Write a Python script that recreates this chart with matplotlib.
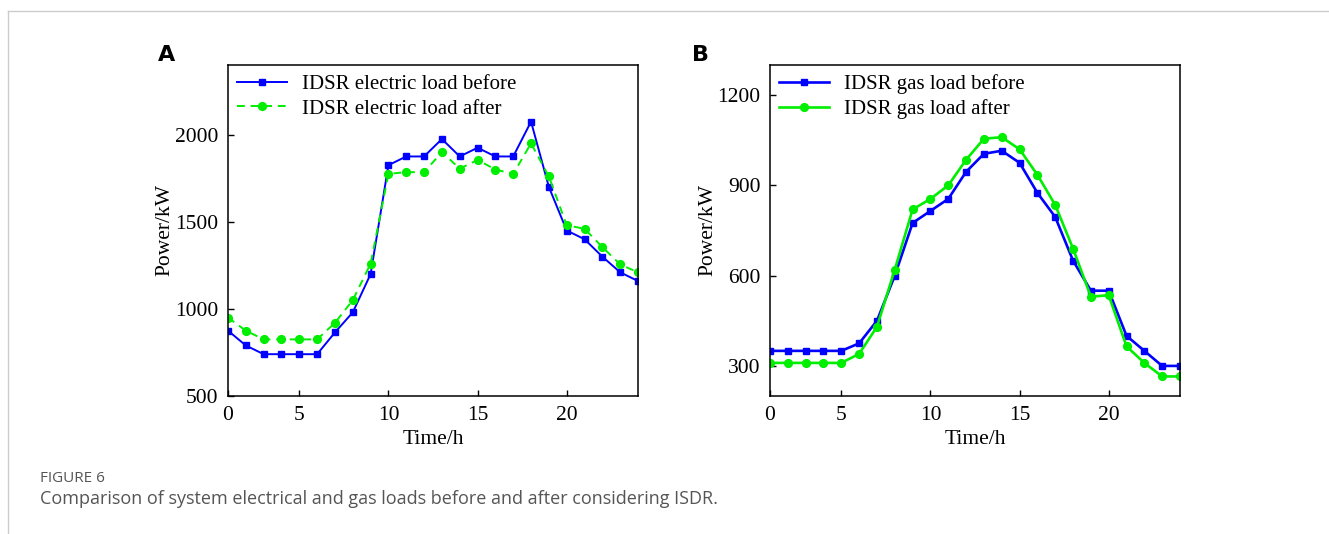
import matplotlib
matplotlib.use("Agg")
import matplotlib.pyplot as plt
from matplotlib.lines import Line2D

plt.rcParams['font.family'] = ['Liberation Serif', 'DejaVu Serif']

hours = list(range(1, 25))

# panel A: electric load (kW)
elec_before = [875, 790, 740, 740, 740, 740, 865, 980, 1200, 1825, 1875, 1875,
               1975, 1875, 1925, 1875, 1875, 2075, 1700, 1450, 1400, 1300, 1210, 1160]
elec_after = [950, 875, 825, 825, 825, 825, 920, 1050, 1260, 1775, 1785, 1785,
              1900, 1805, 1855, 1800, 1775, 1950, 1760, 1480, 1460, 1355, 1255, 1210]

# panel B: gas load (kW)
gas_before = [350, 350, 350, 350, 350, 375, 450, 600, 775, 815, 855, 945,
              1005, 1015, 975, 875, 795, 650, 550, 550, 400, 350, 300, 300]
gas_after = [310, 310, 310, 310, 310, 340, 430, 620, 820, 855, 900, 985,
             1055, 1060, 1020, 935, 835, 690, 530, 535, 365, 310, 265, 265]

xtick_pos = [1, 5, 10, 15, 20]
xtick_lab = ['0', '5', '10', '15', '20']

W, H = 1329, 534
fig = plt.figure(figsize=(W / 100, H / 100), dpi=100)

def px_axes(l, r, t, b):
    return fig.add_axes([l / W, 1 - b / H, (r - l) / W, (b - t) / H])

axA = px_axes(228, 638, 65, 396)
axB = px_axes(770, 1180, 65, 396)

blue = '#0000ff'
green = '#00ee00'

axA.plot(hours, elec_before, color=blue, lw=1.4, marker='s', ms=4.8,
         label='IDSR electric load before')
axA.plot(hours, elec_after, color=green, lw=1.4, ls=(0, (4, 3)), marker='o', ms=5.6,
         label='IDSR electric load after')
axA.set_ylim(500, 2400)
axA.set_yticks([500, 1000, 1500, 2000])

axB.plot(hours, gas_before, color=blue, lw=1.9, marker='s', ms=4.8,
         label='IDSR gas load before')
axB.plot(hours, gas_after, color=green, lw=1.9, marker='o', ms=5.6,
         label='IDSR gas load after')
axB.set_ylim(200, 1300)
axB.set_yticks([300, 600, 900, 1200])

for ax in (axA, axB):
    ax.set_xlim(1, 24)
    ax.set_xticks(xtick_pos)
    ax.set_xticklabels(xtick_lab)
    ax.tick_params(direction='in', length=4, width=1, labelsize=15.5, pad=7)
    ax.set_xlabel('Time/h', fontsize=15.5, labelpad=4)
    ax.set_ylabel('Power/kW', fontsize=15.5, labelpad=0)
    for s in ax.spines.values():
        s.set_linewidth(1.1)
    ax.legend(loc='upper left', frameon=False, fontsize=15, handlelength=2.4,
              borderaxespad=0.15, borderpad=0.3, labelspacing=0.25, handletextpad=0.7)

fig.text(167 / W, 1 - 55 / H, 'A', fontsize=16, fontweight='bold',
         family='DejaVu Sans', ha='center', va='center')
fig.text(700 / W, 1 - 55 / H, 'B', fontsize=16, fontweight='bold',
         family='DejaVu Sans', ha='center', va='center')

# page frame lines
fig.add_artist(Line2D([7.5 / W, 7.5 / W], [0, 1 - 10.5 / H], color='#cccccc', lw=1))
fig.add_artist(Line2D([7.5 / W, 1], [1 - 10.5 / H, 1 - 10.5 / H], color='#cccccc', lw=1))

fig.text(40 / W, 1 - 479 / H, 'FIGURE 6', fontsize=11, color='#555555',
         family='Open Sans', va='center')
fig.text(40 / W, 1 - 499 / H,
         'Comparison of system electrical and gas loads before and after considering ISDR.',
         fontsize=13, color='#555555', family='Open Sans', va='center')

fig.savefig('out.png', dpi=100)
